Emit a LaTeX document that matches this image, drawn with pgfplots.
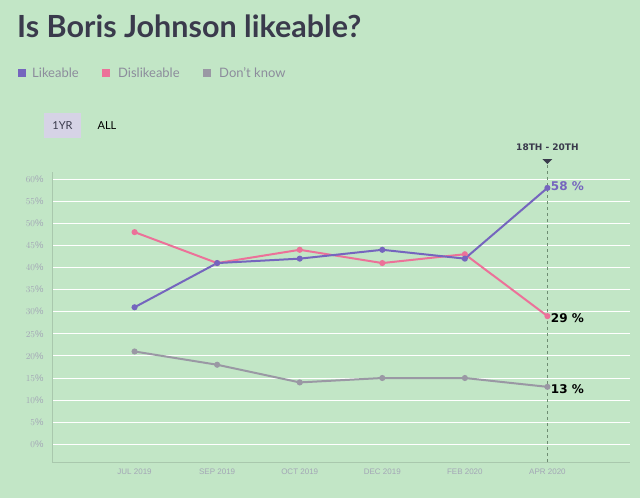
\documentclass[border=0pt]{standalone}
\usepackage{pgfplots}
\pgfplotsset{compat=1.18}
\usepackage{fontspec}
\setmainfont{Lato}
\newfontfamily\dejavu{DejaVu Sans}
\newfontfamily\libsans{Liberation Sans}
\definecolor{bg}{HTML}{C2E6C6}
\definecolor{titlec}{HTML}{3A3A4C}
\definecolor{likec}{HTML}{7565BE}
\definecolor{dislikec}{HTML}{EC7199}
\definecolor{dkc}{HTML}{9A98A4}
\definecolor{tickc}{HTML}{A3A6B6}
\definecolor{axisc}{HTML}{A9C8AD}
\definecolor{legc}{HTML}{8C8C9C}
\definecolor{btnc}{HTML}{D6D3E6}
\definecolor{dashc}{HTML}{6E8C72}
\begin{document}
\begin{tikzpicture}
\fill[bg] (0,0) rectangle (640pt,498pt);
\useasboundingbox (0,0) rectangle (640pt,498pt);
% title
\node[anchor=base west, inner sep=0pt, text=titlec, font=\fontsize{30.5}{33}\selectfont\bfseries] at (17pt,460pt) {Is Boris Johnson likeable?};
% legend
\fill[likec] (18pt,421pt) rectangle (26pt,429pt);
\node[anchor=base west, inner sep=0pt, text=legc, font=\fontsize{13}{15}\selectfont] at (32pt,420pt) {Likeable};
\fill[dislikec] (102pt,421pt) rectangle (110pt,429pt);
\node[anchor=base west, inner sep=0pt, text=legc, font=\fontsize{13}{15}\selectfont] at (118pt,420pt) {Dislikeable};
\fill[dkc] (203pt,421pt) rectangle (211pt,429pt);
\node[anchor=base west, inner sep=0pt, text=legc, font=\fontsize{13}{15}\selectfont] at (219pt,420pt) {Don't know};
% buttons
\fill[btnc] (44pt,360pt) rectangle (81pt,385pt);
\node[text=titlec, font=\fontsize{11}{13}\selectfont, inner sep=0pt] at (62.5pt,372.5pt) {1YR};
\node[text=black, font=\fontsize{11}{13}\selectfont, inner sep=0pt] at (107pt,372.5pt) {ALL};
\begin{axis}[
  at={(52pt,36pt)}, anchor=south west,
  scale only axis, width=578pt, height=290pt,
  xmin=-1, xmax=6, ymin=-4, ymax=61.6,
  axis x line=bottom, axis y line=left,
  axis line style={-, draw=axisc, line width=0.8pt},
  xtick={0,1,2,3,4,5},
  xticklabels={JUL 2019,SEP 2019,OCT 2019,DEC 2019,FEB 2020,APR 2020},
  ytick={0,5,...,60},
  yticklabel={\pgfmathprintnumber{\tick}\%},
  major tick length=0pt,
  x tick label style={text=tickc, font=\libsans\fontsize{8}{10}\selectfont, yshift=-3pt},
  y tick label style={text=tickc, font=\libsans\fontsize{9.5}{11}\selectfont, xshift=-5pt},
  ymajorgrids, grid style={white, line width=0.9pt},
  clip=false,
]
\draw[dashc, dashed, line width=0.7pt] (axis cs:5,-4) -- (axis cs:5,63.2);
\fill[titlec] (axis cs:5,63.4) -- ++(-5pt,5pt) -- ++(10pt,0pt) -- cycle;
\node[text=titlec, font=\dejavu\bfseries\fontsize{9}{11}\selectfont] at (axis cs:5,67.2) {18TH - 20TH};
\addplot[dkc, line width=2pt, mark=*, mark size=2pt] coordinates {(0,21) (1,18) (2,14) (3,15) (4,15) (5,13)};
\addplot[dislikec, line width=2pt, mark=*, mark size=2pt] coordinates {(0,48) (1,41) (2,44) (3,41) (4,43) (5,29)};
\addplot[likec, line width=2pt, mark=*, mark size=2pt] coordinates {(0,31) (1,41) (2,42) (3,44) (4,42) (5,58)};
\node[anchor=west, text=likec, font=\dejavu\bfseries\fontsize{12}{14}\selectfont] at (axis cs:5,58.5) {58 \%};
\node[anchor=west, text=black, font=\dejavu\bfseries\fontsize{12}{14}\selectfont] at (axis cs:5,28.5) {29 \%};
\node[anchor=west, text=black, font=\dejavu\bfseries\fontsize{12}{14}\selectfont] at (axis cs:5,12.5) {13 \%};
\end{axis}
\end{tikzpicture}
\end{document}
